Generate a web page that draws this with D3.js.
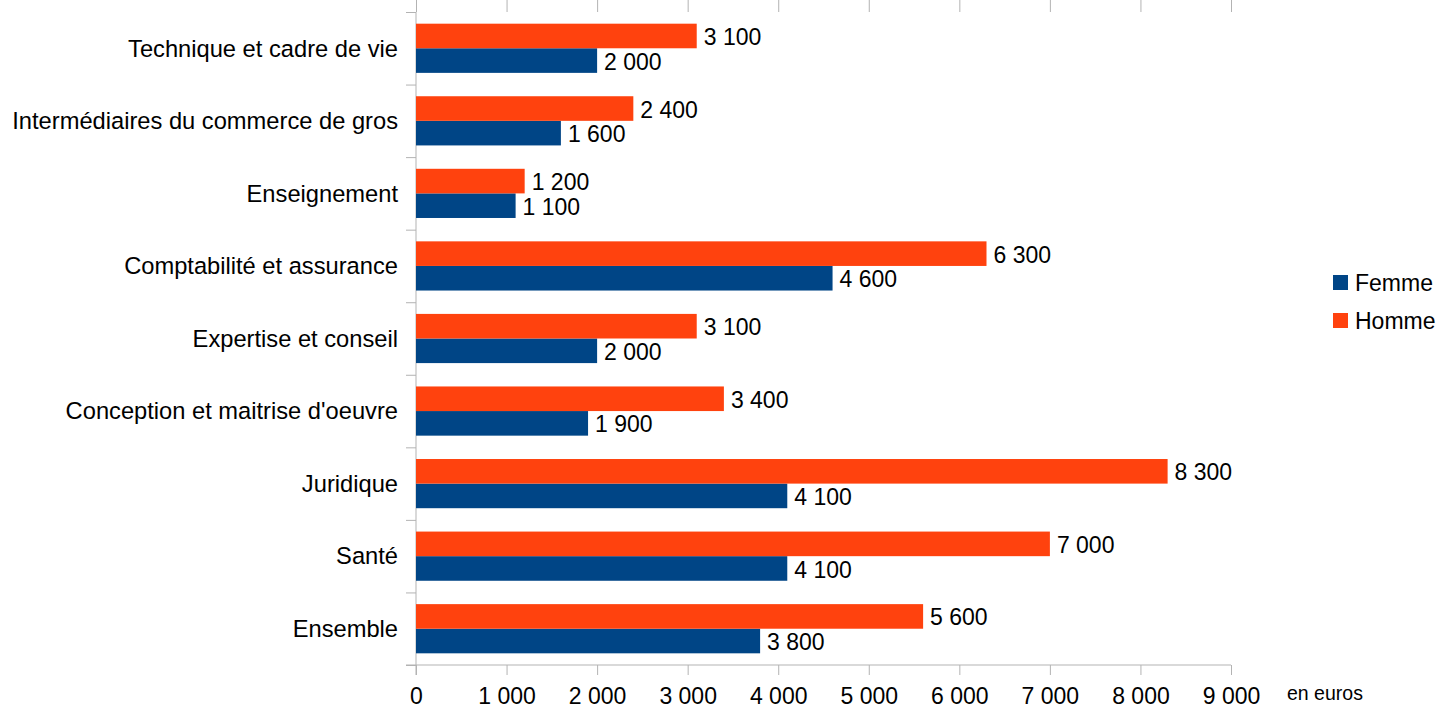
<!DOCTYPE html>
<html>
<head>
<meta charset="utf-8">
<script src="https://cdn.jsdelivr.net/npm/d3@7"></script>
<style>
  body { margin: 0; background: #fff; }
  text { font-family: "Liberation Sans", Arial, sans-serif; }
</style>
</head>
<body>
<div id="canvas"></div>
<script>
const categories = [
  "Technique et cadre de vie",
  "Intermédiaires du commerce de gros",
  "Enseignement",
  "Comptabilité et assurance",
  "Expertise et conseil",
  "Conception et maitrise d'oeuvre",
  "Juridique",
  "Santé",
  "Ensemble"
]
const femme = [2000, 1600, 1100, 4600, 2000, 1900, 4100, 4100, 3800]
const homme = [3100, 2400, 1200, 6300, 3100, 3400, 8300, 7000, 5600]
const xTicks = [0, 1000, 2000, 3000, 4000, 5000, 6000, 7000, 8000, 9000]
const seriesNames = ["Femme", "Homme"]
const seriesColors = ["#004586", "#ff420e"]

const width = 1439
const height = 711
const margin = { top: 12, left: 416, bottom: 46, right: 208 }
const iwidth = width - margin.left - margin.right
const iheight = height - margin.top - margin.bottom
const grid = "#b3b3b3"

const fr = d3.formatLocale({ decimal: ",", thousands: " ", grouping: [3], currency: ["", " €"] })
const fmt = fr.format(",d")

const svg = d3.select("#canvas").append("svg")
  .attr("width", width)
  .attr("height", height)

const g = svg.append("g")
  .attr("transform", `translate(${margin.left}, ${margin.top})`)

const x = d3.scaleLinear().domain([0, 9000]).range([0, iwidth])
const y = d3.scaleBand().domain(categories).range([0, iheight])
const yEdge = d3.scaleLinear().domain([0, categories.length]).range([0, iheight])

// vertical gridlines
g.append("g")
  .call(d3.axisBottom(x).tickValues(xTicks).tickSize(-iheight).tickFormat(""))
  .call(s => s.select(".domain").remove())
  .selectAll("line").attr("stroke", grid)

// bottom axis
const xa = g.append("g")
  .attr("transform", `translate(0, ${iheight})`)
  .call(d3.axisBottom(x).tickValues(xTicks).tickSize(10).tickPadding(13).tickFormat(fmt))
xa.select(".domain").remove()
xa.append("line").attr("x1", -10).attr("x2", iwidth).attr("stroke", grid)
xa.selectAll("line").attr("stroke", grid)
xa.selectAll("text").attr("fill", "#000").style("font-size", "23px")
  .style("font-family", "'Liberation Sans', Arial, sans-serif")

// left axis with band boundary ticks
const ya = g.append("g")
  .call(d3.axisLeft(yEdge).ticks(categories.length).tickSize(10).tickFormat(""))
ya.select(".domain").remove()
ya.append("line").attr("y1", 0).attr("y2", iheight + 10).attr("stroke", grid)
ya.selectAll("line").attr("stroke", grid)

// category labels
g.append("g").selectAll("text").data(categories).join("text")
  .attr("x", -18)
  .attr("y", d => y(d) + y.bandwidth() / 2)
  .attr("dy", "0.35em")
  .attr("text-anchor", "end")
  .style("font-size", "23.7px")
  .text(d => d)

// bars
const inner = d3.scaleBand().domain(["Homme", "Femme"]).range([0, y.bandwidth()]).paddingOuter(0.475)
const rows = categories.map((c, i) => ({ c, Femme: femme[i], Homme: homme[i] }))

seriesNames.forEach((s, si) => {
  g.append("g").selectAll("rect").data(rows).join("rect")
    .attr("x", 0)
    .attr("y", d => y(d.c) + inner(s))
    .attr("width", d => x(d[s]))
    .attr("height", inner.bandwidth())
    .attr("fill", seriesColors[si])
  g.append("g").selectAll("text").data(rows).join("text")
    .attr("x", d => x(d[s]) + 7)
    .attr("y", d => y(d.c) + inner(s) + inner.bandwidth() / 2 + 1)
    .attr("dy", "0.35em")
    .style("font-size", "23px")
    .text(d => fmt(d[s]))
})

// axis unit
svg.append("text")
  .attr("x", 1287).attr("y", 700)
  .style("font-size", "19.5px")
  .text("en euros")

// legend
const leg = svg.append("g").attr("transform", "translate(1333, 275)")
seriesNames.forEach((s, i) => {
  leg.append("rect").attr("x", 0).attr("y", i * 38).attr("width", 15).attr("height", 15).attr("fill", seriesColors[i])
  leg.append("text").attr("x", 22).attr("y", i * 38 + 8).attr("dy", "0.35em")
    .style("font-size", "23px").text(s)
})
</script>
</body>
</html>
